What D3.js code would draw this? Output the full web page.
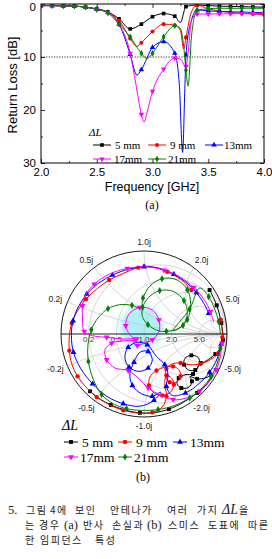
<!DOCTYPE html>
<html><head><meta charset="utf-8">
<script src="https://cdn.jsdelivr.net/npm/d3@7"></script>
<style>body{margin:0;background:#fff;} svg{display:block}</style>
</head><body>
<svg id="c" width="272" height="559"></svg>
<script>
// ---------- data ----------
const seriesNames = ["5 mm","9 mm","13mm","17mm","21mm"];
const seriesColors = ["#000000","#ff0000","#0000ff","#ff00ff","#008000"];
const xTicks = [2.0,2.5,3.0,3.5,4.0];
const xMinor = [2.25,2.75,3.25,3.75];
const yTicks = [0,10,20,30];
const yMinor = [5,15,25];
const rTicks = [0.2,0.5,1.0,2.0,5.0];
const xReact = [0.2,0.5,1.0,2.0,5.0];

// Return loss [dB] vs frequency [GHz]
const rl5 = [[2.0,0.3],[2.1,0.3],[2.2,0.35],[2.3,0.4],[2.4,0.6],[2.5,0.9],[2.6,1.5],[2.7,2.8],[2.8,4.7],[2.9,3.8],[3.0,2.4],[3.1,1.8],[3.2,2.3],[3.25,3.5],[3.3,0.5],[3.4,0.2],[3.5,0.3],[3.6,0.4],[3.7,0.45],[3.8,0.5],[3.9,0.55],[4.0,0.6]];
const rl9 = [[2.0,0.3],[2.1,0.3],[2.2,0.35],[2.3,0.4],[2.4,0.6],[2.5,1.0],[2.6,1.6],[2.7,3.1],[2.8,6.5],[2.86,8.0],[2.9,7.3],[3.0,5.2],[3.1,3.8],[3.2,4.0],[3.25,5.0],[3.28,8.5],[3.3,6.3],[3.35,1.5],[3.4,0.2],[3.5,0.9],[3.6,1.3],[3.7,1.6],[3.8,1.8],[3.9,1.9],[4.0,2.0]];
const rl13 = [[2.0,0.3],[2.1,0.3],[2.2,0.35],[2.3,0.4],[2.4,0.6],[2.5,1.0],[2.6,1.6],[2.7,3.8],[2.8,9.5],[2.86,13.4],[2.9,12.4],[3.0,8.2],[3.1,7.1],[3.2,9.3],[3.24,15],[3.27,28],[3.29,16],[3.3,9.6],[3.35,3.0],[3.4,1.1],[3.5,1.3],[3.6,1.4],[3.7,1.5],[3.8,1.5],[3.9,1.6],[4.0,1.6]];
const rl17 = [[2.0,0.3],[2.1,0.3],[2.2,0.35],[2.3,0.4],[2.4,0.6],[2.5,1.0],[2.6,1.6],[2.7,3.8],[2.8,9.3],[2.85,15],[2.9,20.8],[2.925,22.3],[2.95,20.5],[3.0,16.5],[3.1,12.3],[3.2,10.2],[3.25,10.4],[3.3,11.8],[3.32,9.0],[3.35,3.0],[3.4,1.9],[3.5,1.9],[3.6,1.85],[3.7,1.85],[3.8,1.8],[3.9,1.8],[4.0,1.8]];
const rl21 = [[2.0,0.3],[2.1,0.3],[2.2,0.35],[2.3,0.4],[2.4,0.6],[2.5,1.0],[2.6,1.7],[2.7,3.8],[2.8,6.2],[2.9,9.3],[2.95,10.3],[3.0,9.3],[3.1,6.2],[3.2,4.1],[3.25,4.6],[3.28,8.0],[3.3,12.5],[3.32,15.5],[3.35,6.0],[3.4,1.2],[3.5,0.9],[3.6,0.8],[3.7,0.8],[3.8,0.8],[3.9,0.8],[4.0,0.8]];

// Reflection coefficient loci (real, imag) on the Smith chart
const sm5 = [[0.79,0.53],[0.835,0.442],[0.876,0.345],[0.908,0.24],[0.932,0.133],[0.948,0.024],[0.952,-0.072],[0.92,-0.169],[0.859,-0.241],[0.779,-0.305],[0.683,-0.349],[0.651,-0.281],[0.57,-0.257],[0.494,-0.293],[0.482,-0.369],[0.538,-0.434],[0.618,-0.434],[0.659,-0.378],[0.59,-0.482],[0.498,-0.49],[0.418,-0.53],[0.398,-0.602],[0.45,-0.651],[0.538,-0.643],[0.578,-0.57],[0.554,-0.514],[0.64,-0.54],[0.74,-0.53],[0.81,-0.5],[0.76,-0.6],[0.64,-0.71],[0.48,-0.82],[0.3,-0.905],[0.13,-0.945],[-0.05,-0.95],[-0.23,-0.915],[-0.4,-0.855],[-0.55,-0.77],[-0.65,-0.69]];
const sm9 = [[0.924,0.173],[0.94,0.06],[0.944,-0.04],[0.935,-0.135],[0.89,-0.235],[0.8,-0.31],[0.68,-0.36],[0.55,-0.37],[0.44,-0.35],[0.34,-0.36],[0.27,-0.42],[0.26,-0.51],[0.31,-0.58],[0.39,-0.58],[0.44,-0.51],[0.42,-0.43],[0.35,-0.39],[0.25,-0.4],[0.15,-0.44],[0.07,-0.52],[0.06,-0.62],[0.12,-0.71],[0.22,-0.74],[0.32,-0.7],[0.36,-0.61],[0.33,-0.53],[0.27,-0.5],[0.25,-0.6],[0.27,-0.75],[0.22,-0.88],[0.1,-0.945],[-0.05,-0.955],[-0.25,-0.92],[-0.42,-0.85],[-0.57,-0.76],[-0.7,-0.64],[-0.8,-0.51],[-0.87,-0.36],[-0.9,-0.2],[-0.9,-0.03],[-0.87,0.13],[-0.8,0.28],[-0.7,0.42],[-0.56,0.55],[-0.42,0.65],[-0.25,0.73],[-0.07,0.8],[0.1,0.81],[0.28,0.75],[0.44,0.66],[0.57,0.53]];
const sm13 = [[0.93,-0.12],[0.88,-0.3],[0.79,-0.46],[0.66,-0.6],[0.5,-0.71],[0.34,-0.74],[0.27,-0.63],[0.29,-0.5],[0.25,-0.37],[0.15,-0.27],[0.04,-0.13],[-0.08,-0.1],[-0.19,-0.16],[-0.23,-0.28],[-0.18,-0.4],[-0.06,-0.45],[0.05,-0.41],[0.1,-0.31],[0.05,-0.21],[-0.05,-0.22],[-0.12,-0.34],[-0.17,-0.48],[-0.14,-0.62],[-0.03,-0.72],[0.1,-0.75],[0.2,-0.7],[0.12,-0.8],[-0.05,-0.87],[-0.25,-0.84],[-0.45,-0.75],[-0.62,-0.6],[-0.76,-0.42],[-0.85,-0.22],[-0.875,-0.02],[-0.855,0.16],[-0.79,0.33],[-0.69,0.48],[-0.55,0.61],[-0.38,0.71],[-0.19,0.78],[0.0,0.81],[0.19,0.79],[0.36,0.72],[0.51,0.62],[0.63,0.5],[0.72,0.37],[0.78,0.25]];
const sm17 = [[0.94,-0.11],[0.92,-0.27],[0.87,-0.43],[0.79,-0.57],[0.67,-0.69],[0.52,-0.77],[0.35,-0.79],[0.19,-0.73],[0.05,-0.65],[-0.06,-0.54],[-0.19,-0.44],[-0.35,-0.41],[-0.45,-0.31],[-0.47,-0.19],[-0.39,-0.11],[-0.23,-0.08],[-0.1,-0.07],[-0.17,-0.01],[-0.22,0.1],[-0.18,0.24],[-0.05,0.32],[0.1,0.29],[0.18,0.17],[0.18,0.03],[0.1,-0.07],[0.0,-0.11],[-0.08,-0.14],[-0.13,-0.1],[-0.09,-0.06],[-0.25,-0.06],[-0.45,-0.04],[-0.62,-0.02],[-0.72,0.03],[-0.74,0.18],[-0.74,0.34],[-0.71,0.46],[-0.6,0.6],[-0.42,0.72],[-0.2,0.79],[0.02,0.81],[0.24,0.77],[0.43,0.69],[0.6,0.56],[0.72,0.42],[0.8,0.27],[0.84,0.14]];
const sm21 = [[0.92,-0.17],[0.884,-0.349],[0.81,-0.51],[0.7,-0.65],[0.55,-0.77],[0.37,-0.86],[0.17,-0.91],[-0.03,-0.92],[-0.21,-0.9],[-0.37,-0.84],[-0.51,-0.73],[-0.61,-0.55],[-0.67,-0.33],[-0.675,-0.13],[-0.635,0.05],[-0.554,0.193],[-0.434,0.305],[-0.293,0.353],[-0.145,0.345],[-0.04,0.313],[-0.012,0.434],[0.068,0.574],[0.217,0.667],[0.39,0.655],[0.522,0.534],[0.562,0.353],[0.522,0.173],[0.41,0.064],[0.269,0.032],[0.169,0.04],[0.048,0.112],[-0.02,0.213],[-0.016,0.321],[0.056,0.442],[0.189,0.522],[0.349,0.514],[0.482,0.402],[0.522,0.253],[0.47,0.104],[0.349,0.04],[0.55,0.3],[0.671,0.554],[0.78,0.45],[0.851,0.3],[0.9,0.15],[0.92,0.0]];

const rlData = [rl5, rl9, rl13, rl17, rl21];
const smData = [sm5, sm9, sm13, sm17, sm21];

// ---------- helpers ----------
const SANS = "'Liberation Sans', Arial, sans-serif";
const SERIF = "'Liberation Serif', 'Times New Roman', serif";
const svg = d3.select("#c");
const symTypes = [d3.symbolSquare, d3.symbolCircle, d3.symbolTriangle, d3.symbolTriangle, d3.symbolDiamond];
const symRot = [0,0,0,180,0];
function marker(g, i, px, py, size) {
  g.append("path")
    .attr("d", d3.symbol().type(symTypes[i]).size(size)())
    .attr("transform", `translate(${px},${py}) rotate(${symRot[i]})`)
    .attr("fill", seriesColors[i]);
}

// ---------- (a) return loss ----------
const x = d3.scaleLinear().domain([2,4]).range([41,264]);
const y = d3.scaleLinear().domain([0,30]).range([4,163]);
const gA = svg.append("g");

gA.append("line").attr("x1", x(2)).attr("x2", x(4)).attr("y1", y(10)).attr("y2", y(10))
  .attr("stroke","#000").attr("stroke-width",0.8).attr("stroke-dasharray","1.2,1.4");

function styleAxis(g, fs) {
  g.select(".domain").remove();
  g.selectAll("line").attr("stroke","#000").attr("stroke-width",0.8);
  g.selectAll("text").attr("font-family", SANS).attr("font-size", fs).attr("fill","#000");
}
gA.append("g").attr("transform",`translate(0,${y(30)})`)
  .call(d3.axisBottom(x).tickValues(xTicks).tickSize(-4).tickPadding(5).tickFormat(d3.format(".1f")))
  .call(g=>styleAxis(g,"11.5px"));
gA.append("g").attr("transform",`translate(0,${y(30)})`)
  .call(d3.axisBottom(x).tickValues(xMinor).tickSize(-2).tickFormat(""))
  .call(g=>styleAxis(g,"1px"));
gA.append("g").attr("transform",`translate(0,${y(0)})`)
  .call(d3.axisTop(x).tickValues(xTicks).tickSize(-4).tickFormat(""))
  .call(g=>styleAxis(g,"1px"));
gA.append("g").attr("transform",`translate(0,${y(0)})`)
  .call(d3.axisTop(x).tickValues(xMinor).tickSize(-2).tickFormat(""))
  .call(g=>styleAxis(g,"1px"));
gA.append("g").attr("transform",`translate(${x(2)},0)`)
  .call(d3.axisLeft(y).tickValues(yTicks).tickSize(-4).tickPadding(5).tickFormat(d3.format("d")))
  .call(g=>styleAxis(g,"11.5px"))
  .call(g=>g.selectAll(".tick").filter(d=>d===0).select("text").attr("dy","0.55em"));
gA.append("g").attr("transform",`translate(${x(2)},0)`)
  .call(d3.axisLeft(y).tickValues(yMinor).tickSize(-2).tickFormat(""))
  .call(g=>styleAxis(g,"1px"));
gA.append("g").attr("transform",`translate(${x(4)},0)`)
  .call(d3.axisRight(y).tickValues(yTicks).tickSize(-4).tickFormat(""))
  .call(g=>styleAxis(g,"1px"));
gA.append("g").attr("transform",`translate(${x(4)},0)`)
  .call(d3.axisRight(y).tickValues(yMinor).tickSize(-2).tickFormat(""))
  .call(g=>styleAxis(g,"1px"));

svg.append("clipPath").attr("id","plotA").append("rect")
  .attr("x", x(2)).attr("y", y(0)).attr("width", x(4)-x(2)).attr("height", y(30)-y(0));
const lineA = d3.line().x(d=>x(d[0])).y(d=>y(d[1])).curve(d3.curveMonotoneX);
const curvesA = gA.append("g").attr("clip-path","url(#plotA)");
rlData.forEach((data,i)=>{
  curvesA.append("path").attr("d", lineA(data)).attr("fill","none")
    .attr("stroke", seriesColors[i]).attr("stroke-width",1);
  data.filter(d=>Math.abs(d[0]*10-Math.round(d[0]*10))<1e-6)
    .forEach(d=>marker(curvesA, i, x(d[0]), y(d[1]), 13));
});
gA.append("rect").attr("x", x(2)).attr("y", y(0)).attr("width", x(4)-x(2)).attr("height", y(30)-y(0))
  .attr("fill","none").attr("stroke","#000").attr("stroke-width",1);

gA.append("text").attr("x",152).attr("y",191).attr("text-anchor","middle")
  .attr("font-family",SANS).attr("font-size","12.5px").text("Frequency [GHz]");
gA.append("text").attr("transform","translate(16.5,85) rotate(-90)").attr("text-anchor","middle")
  .attr("font-family",SANS).attr("font-size","13px").text("Return Loss [dB]");
gA.append("text").attr("x",152).attr("y",209).attr("text-anchor","middle")
  .attr("font-family",SERIF).attr("font-size","12px").text("(a)");

// legend (a)
gA.append("text").attr("x",89).attr("y",136).attr("font-family",SERIF).attr("font-style","italic")
  .attr("font-size","11px").text("ΔL");
const legA = [{i:0,lx:93,ly:145,tx:115},{i:1,lx:148,ly:145,tx:170},{i:2,lx:205,ly:145,tx:224},
              {i:3,lx:93,ly:159,tx:114},{i:4,lx:148,ly:159,tx:168}];
legA.forEach(l=>{
  gA.append("line").attr("x1",l.lx).attr("x2",l.lx+18).attr("y1",l.ly).attr("y2",l.ly)
    .attr("stroke",seriesColors[l.i]).attr("stroke-width",1);
  marker(gA, l.i, l.lx+9, l.ly, 13);
  gA.append("text").attr("x",l.tx).attr("y",l.ly+3.8).attr("font-family",SERIF)
    .attr("font-size","11px").text(seriesNames[l.i]);
});

// ---------- (b) Smith chart ----------
const CX = 144, CY = 334, R = 83;
const gx = d3.scaleLinear().domain([-1,1]).range([CX-R, CX+R]);
const gy = d3.scaleLinear().domain([-1,1]).range([CY+R, CY-R]);
const gB = svg.append("g");
const defs = svg.append("defs");
const rg = defs.append("radialGradient").attr("id","cyanGlow");
rg.append("stop").attr("offset","0%").attr("stop-color","#a4eef7").attr("stop-opacity",0.95);
rg.append("stop").attr("offset","70%").attr("stop-color","#a4eef7").attr("stop-opacity",0.85);
rg.append("stop").attr("offset","100%").attr("stop-color","#a4eef7").attr("stop-opacity",0);
gB.append("circle").attr("cx",gx(-0.03)).attr("cy",gy(0.08)).attr("r",(gx(0.3)-gx(0)))
  .attr("fill","url(#cyanGlow)");

svg.append("clipPath").attr("id","unit").append("circle").attr("cx",CX).attr("cy",CY).attr("r",R);
const grid = gB.append("g").attr("clip-path","url(#unit)").attr("fill","none")
  .attr("stroke","#c4c4c4").attr("stroke-width",0.7);
rTicks.forEach(r=>{
  grid.append("circle").attr("cx",gx(r/(1+r))).attr("cy",gy(0)).attr("r",(gx(1)-gx(0))/(1+r));
});
xReact.forEach(xv=>{
  [1,-1].forEach(s=>{
    grid.append("circle").attr("cx",gx(1)).attr("cy",gy(s/xv)).attr("r",(gx(1)-gx(0))/xv);
  });
});
gB.append("circle").attr("cx",CX).attr("cy",CY).attr("r",R).attr("fill","none")
  .attr("stroke","#000").attr("stroke-width",0.9);
gB.append("line").attr("x1",gx(-1)).attr("x2",gx(1)).attr("y1",gy(0)).attr("y2",gy(0))
  .attr("stroke","#000").attr("stroke-width",0.9);

// labels
rTicks.forEach(r=>{
  gB.append("text").attr("x",gx((r-1)/(r+1))).attr("y",gy(0)+7.5).attr("text-anchor","middle")
    .attr("font-family",SANS).attr("font-size","8px").attr("fill","#333").text(r.toFixed(1));
});
xReact.forEach(xv=>{
  [1,-1].forEach(s=>{
    const th = Math.PI - 2*Math.atan(xv);
    const px = CX + (R+13)*Math.cos(th);
    const py = CY - s*(R+9)*Math.sin(th);
    gB.append("text").attr("x",px).attr("y",py).attr("text-anchor","middle")
      .attr("dominant-baseline","central").attr("font-family",SANS).attr("font-size","8.5px")
      .attr("fill","#222").text((s<0?"-":"")+xv.toFixed(1)+"j");
  });
});

const lineB = d3.line().x(d=>gx(d[0])).y(d=>gy(d[1])).curve(d3.curveCatmullRom.alpha(0.5));
smData.forEach((data,i)=>{
  gB.append("path").attr("d", lineB(data)).attr("fill","none")
    .attr("stroke", seriesColors[i]).attr("stroke-width",1);
  data.forEach((d,k)=>{ if (k%2===0) marker(gB, i, gx(d[0]), gy(d[1]), 15); });
});

// legend (b)
gB.append("text").attr("x",62).attr("y",430).attr("font-family",SERIF).attr("font-style","italic")
  .attr("font-size","14px").text("ΔL");
const legB = [{i:0,lx:64,ly:442,tx:82},{i:1,lx:118,ly:442,tx:136},{i:2,lx:173,ly:442,tx:190},
              {i:3,lx:64,ly:457,tx:80},{i:4,lx:118,ly:457,tx:134}];
legB.forEach(l=>{
  gB.append("line").attr("x1",l.lx).attr("x2",l.lx+14).attr("y1",l.ly).attr("y2",l.ly)
    .attr("stroke",seriesColors[l.i]).attr("stroke-width",1);
  marker(gB, l.i, l.lx+7, l.ly, 15);
  gB.append("text").attr("x",l.tx).attr("y",l.ly+4.8).attr("font-family",SERIF)
    .attr("font-size","13.5px").text(seriesNames[l.i]);
});
gB.append("text").attr("x",143).attr("y",481).attr("text-anchor","middle")
  .attr("font-family",SERIF).attr("font-size","12px").text("(b)");

// ---------- caption ----------
const KR = "'Noto Sans CJK KR', sans-serif";
const cap = svg.append("g").attr("font-family",KR).attr("font-size","10px").attr("fill","#222");
const capWords = [
  {y:514, w:[[8,"5."],[26,"그림"],[50,"4에"],[75,"보인"],[110,"안테나가"],[167,"여러"],[197,"가지"]]},
  {y:529, w:[[25,"는"],[39,"경우"],[64,"(a)"],[83,"반사"],[112,"손실과"],[147,"(b)"],[168,"스미스"],[208,"도표에"],[248,"따른"]]},
  {y:544, w:[[25,"한"],[40,"임피던스"],[95,"특성"]]}
];
capWords.forEach(line=>{
  line.w.forEach(([wx,t])=>{
    const tx = cap.append("text").attr("x",wx).attr("y",line.y).attr("letter-spacing","1.5px").text(t);
    if (t==="(a)"||t==="(b)"||t==="5.") tx.attr("font-family",SERIF).attr("font-size","12.5px").attr("letter-spacing","0");
  });
});
const dl = cap.append("text").attr("x",222).attr("y",514);
dl.append("tspan").attr("font-family",SERIF).attr("font-style","italic").attr("font-size","14px").text("ΔL");
dl.append("tspan").attr("dx","1").text("을");
</script>
</body></html>
